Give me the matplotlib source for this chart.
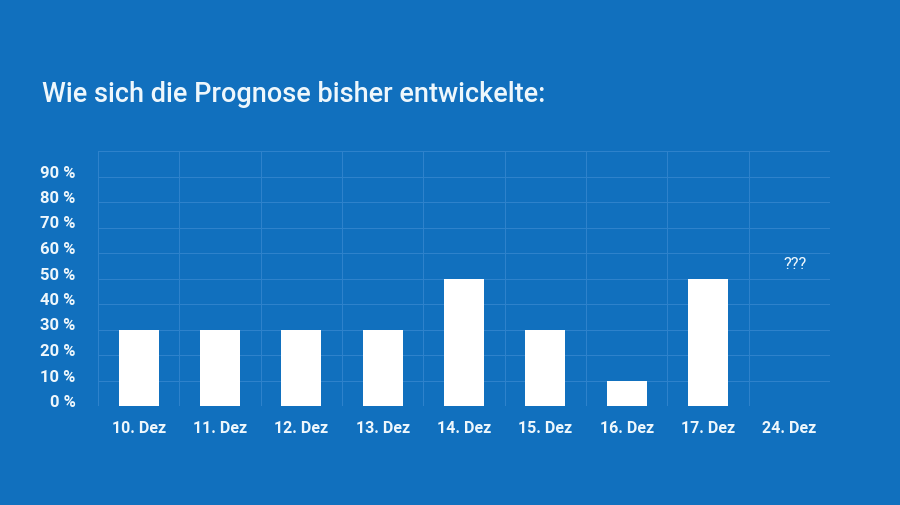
import matplotlib.pyplot as plt

# Daten
tage = ["10. Dez", "11. Dez", "12. Dez", "13. Dez", "14. Dez", "15. Dez", "16. Dez", "17. Dez", "24. Dez"]
prognose = [30, 30, 30, 30, 50, 30, 10, 50, None]
y_ticks = [0, 10, 20, 30, 40, 50, 60, 70, 80, 90]
offen_text = "???"
offen_wert = 56

bg = "#1170be"
grid = "#2f83cc"
txt = "#eef7fc"
font = "Roboto"

fig = plt.figure(figsize=(9, 5.06), dpi=100, facecolor=bg)
ax = fig.add_axes([98 / 900, 1 - 407 / 506, 732 / 900, 255 / 506])
ax.set_facecolor(bg)

pos = list(range(len(tage)))
werte = [v if v is not None else 0 for v in prognose]
ax.bar(pos, werte, width=0.49, color="white", zorder=3)
ax.text(pos[-1] + 0.07, offen_wert, offen_text, color=txt, ha="center", va="center",
        fontsize=12, family=font)

ax.set_xlim(-0.5, len(tage) - 0.5)
ax.set_ylim(0, 100)

# Gitter
for x in [p - 0.5 for p in pos] + [len(tage) - 0.5]:
    ax.axvline(x, color=grid, lw=0.7, zorder=1)
for y in y_ticks + [100]:
    ax.axhline(y, color=grid, lw=0.7, zorder=1)

for s in ax.spines.values():
    s.set_visible(False)
ax.tick_params(length=0)
ax.set_xticks(pos)
ax.set_xticklabels(tage, color=txt, fontsize=11.5, fontweight="bold", family=font)
ax.set_yticks(y_ticks)
ax.set_yticklabels([f"{t} %" for t in y_ticks], color=txt, fontsize=12,
                   fontweight="bold", family=font)
for lab in ax.get_yticklabels():
    lab.set_verticalalignment("baseline")
ax.tick_params(axis="y", pad=16)
ax.tick_params(axis="x", pad=10)

fig.text(42 / 900, 1 - 95 / 506, "Wie sich die Prognose bisher entwickelte:", color=txt,
         fontsize=19.5, fontweight="medium", family=font, va="center", ha="left")

fig.savefig("out.png", dpi=100, facecolor=bg)
